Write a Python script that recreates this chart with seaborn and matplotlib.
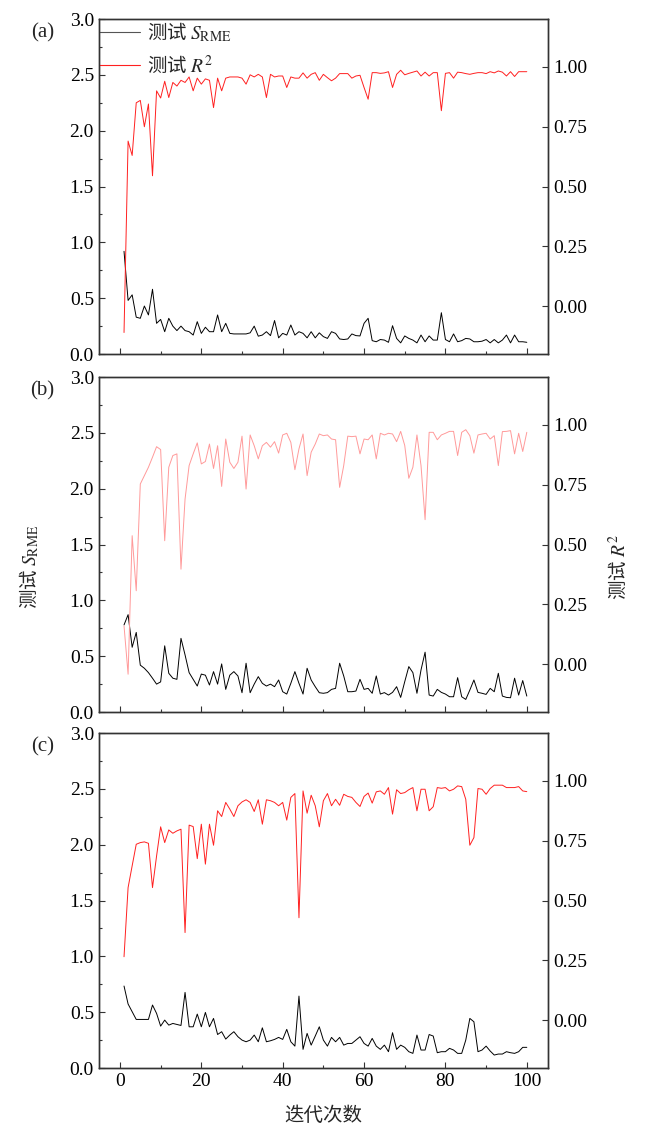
import numpy as np
import pandas as pd
import matplotlib
matplotlib.use("Agg")
import matplotlib.pyplot as plt
import seaborn as sns
from matplotlib.ticker import MultipleLocator
from matplotlib.lines import Line2D

iterations = list(range(1, 101))

rmse_a = [0.92, 0.48, 0.53, 0.33, 0.32, 0.43, 0.35, 0.58, 0.275, 0.31,
          0.20, 0.32, 0.25, 0.21, 0.25, 0.21, 0.20, 0.17, 0.29, 0.185,
          0.24, 0.20, 0.20, 0.35, 0.20, 0.275, 0.185, 0.18, 0.18, 0.18,
          0.18, 0.19, 0.25, 0.16, 0.17, 0.20, 0.165, 0.30, 0.145, 0.185,
          0.17, 0.26, 0.17, 0.20, 0.185, 0.145, 0.20, 0.145, 0.19, 0.156,
          0.14, 0.20, 0.185, 0.135, 0.13, 0.135, 0.18, 0.165, 0.162, 0.275,
          0.32, 0.12, 0.11, 0.13, 0.125, 0.105, 0.254, 0.14, 0.10, 0.162,
          0.14, 0.125, 0.10, 0.17, 0.11, 0.162, 0.125, 0.125, 0.37, 0.13,
          0.11, 0.18, 0.11, 0.12, 0.14, 0.135, 0.11, 0.11, 0.115, 0.13,
          0.10, 0.13, 0.10, 0.125, 0.17, 0.10, 0.17, 0.11, 0.11, 0.105]
r2_a = [-0.11, 0.69, 0.63, 0.85, 0.86, 0.75, 0.845, 0.545, 0.90, 0.87,
        0.94, 0.872, 0.935, 0.92, 0.944, 0.935, 0.958, 0.90, 0.953, 0.928,
        0.95, 0.944, 0.83, 0.953, 0.90, 0.953, 0.958, 0.958, 0.958, 0.953,
        0.928, 0.967, 0.958, 0.969, 0.958, 0.872, 0.969, 0.958, 0.962, 0.962,
        0.914, 0.958, 0.953, 0.953, 0.975, 0.953, 0.969, 0.976, 0.944, 0.969,
        0.955, 0.942, 0.953, 0.972, 0.972, 0.972, 0.953, 0.962, 0.965, 0.914,
        0.865, 0.976, 0.976, 0.973, 0.975, 0.98, 0.914, 0.969, 0.986, 0.967,
        0.973, 0.978, 0.983, 0.962, 0.978, 0.962, 0.976, 0.976, 0.817, 0.973,
        0.976, 0.953, 0.978, 0.976, 0.972, 0.969, 0.973, 0.976, 0.976, 0.972,
        0.98, 0.975, 0.983, 0.978, 0.962, 0.98, 0.96, 0.98, 0.98, 0.98]

rmse_b = [0.78, 0.872, 0.58, 0.713, 0.42, 0.392, 0.353, 0.303, 0.25, 0.27,
          0.593, 0.347, 0.303, 0.293, 0.66, 0.512, 0.353, 0.293, 0.233, 0.34,
          0.33, 0.242, 0.362, 0.25, 0.431, 0.203, 0.33, 0.362, 0.323, 0.173,
          0.437, 0.173, 0.25, 0.317, 0.257, 0.233, 0.25, 0.227, 0.287, 0.182,
          0.161, 0.257, 0.362, 0.257, 0.161, 0.392, 0.287, 0.227, 0.173, 0.168,
          0.174, 0.203, 0.212, 0.437, 0.323, 0.182, 0.182, 0.188, 0.293, 0.203,
          0.212, 0.168, 0.323, 0.161, 0.174, 0.152, 0.176, 0.227, 0.131, 0.272,
          0.407, 0.353, 0.168, 0.377, 0.536, 0.152, 0.143, 0.203, 0.176, 0.161,
          0.137, 0.137, 0.308, 0.137, 0.113, 0.197, 0.287, 0.176, 0.168, 0.158,
          0.212, 0.182, 0.347, 0.143, 0.131, 0.128, 0.303, 0.152, 0.282, 0.143]
r2_b = [0.16, -0.042, 0.537, 0.307, 0.753, 0.788, 0.823, 0.865, 0.909, 0.897,
        0.516, 0.823, 0.872, 0.879, 0.397, 0.69, 0.83, 0.879, 0.925, 0.837,
        0.847, 0.92, 0.818, 0.913, 0.743, 0.941, 0.844, 0.818, 0.844, 0.953,
        0.732, 0.958, 0.913, 0.858, 0.913, 0.927, 0.907, 0.93, 0.882, 0.958,
        0.965, 0.927, 0.813, 0.90, 0.962, 0.788, 0.886, 0.92, 0.962, 0.955,
        0.958, 0.941, 0.938, 0.739, 0.83, 0.953, 0.951, 0.953, 0.879, 0.941,
        0.938, 0.958, 0.858, 0.965, 0.958, 0.965, 0.962, 0.93, 0.973, 0.914,
        0.777, 0.823, 0.958, 0.83, 0.604, 0.969, 0.969, 0.938, 0.958, 0.965,
        0.973, 0.973, 0.872, 0.969, 0.98, 0.955, 0.882, 0.958, 0.962, 0.965,
        0.941, 0.955, 0.83, 0.972, 0.973, 0.976, 0.879, 0.965, 0.889, 0.969]

rmse_c = [0.734, 0.573, 0.504, 0.435, 0.435, 0.435, 0.435, 0.564, 0.489, 0.375,
          0.429, 0.384, 0.399, 0.39, 0.381, 0.677, 0.369, 0.369, 0.483, 0.369,
          0.498, 0.369, 0.444, 0.30, 0.325, 0.259, 0.295, 0.325, 0.28, 0.25,
          0.235, 0.25, 0.295, 0.235, 0.36, 0.235, 0.244, 0.256, 0.274, 0.256,
          0.346, 0.235, 0.196, 0.644, 0.167, 0.31, 0.205, 0.286, 0.369, 0.25,
          0.196, 0.274, 0.235, 0.274, 0.205, 0.22, 0.22, 0.25, 0.28, 0.22,
          0.196, 0.265, 0.196, 0.167, 0.205, 0.146, 0.316, 0.167, 0.205, 0.185,
          0.146, 0.131, 0.295, 0.161, 0.161, 0.30, 0.286, 0.137, 0.146, 0.146,
          0.176, 0.161, 0.131, 0.131, 0.25, 0.444, 0.414, 0.146, 0.161, 0.196,
          0.152, 0.116, 0.125, 0.125, 0.146, 0.137, 0.131, 0.146, 0.185, 0.185]
r2_c = [0.265, 0.554, 0.645, 0.735, 0.742, 0.745, 0.739, 0.554, 0.686, 0.808,
        0.742, 0.795, 0.781, 0.791, 0.798, 0.366, 0.815, 0.809, 0.675, 0.819,
        0.652, 0.819, 0.731, 0.875, 0.851, 0.91, 0.882, 0.851, 0.896, 0.912,
        0.921, 0.91, 0.872, 0.921, 0.819, 0.921, 0.917, 0.91, 0.896, 0.91,
        0.836, 0.931, 0.947, 0.428, 0.958, 0.865, 0.94, 0.896, 0.808, 0.917,
        0.947, 0.896, 0.923, 0.898, 0.944, 0.935, 0.931, 0.91, 0.893, 0.935,
        0.949, 0.907, 0.954, 0.958, 0.944, 0.972, 0.861, 0.963, 0.947, 0.951,
        0.963, 0.972, 0.875, 0.965, 0.965, 0.875, 0.892, 0.972, 0.969, 0.972,
        0.958, 0.965, 0.979, 0.976, 0.923, 0.731, 0.763, 0.968, 0.965, 0.944,
        0.968, 0.982, 0.982, 0.982, 0.972, 0.972, 0.972, 0.976, 0.958, 0.955]

panel_labels = ["(a)", "(b)", "(c)"]
red_colors = ["#ff2020", "#ff9a9a", "#ff2020"]
label_rmse = "测试 $S_{\\mathrm{RME}}$"
label_r2 = "测试 $R^2$"
xlabel = "迭代次数"

sns.set_theme(style="ticks")
plt.rcParams["font.family"] = ["Liberation Serif", "Noto Sans CJK SC", "DejaVu Sans"]
plt.rcParams["mathtext.fontset"] = "stix"
plt.rcParams["xtick.direction"] = "in"
plt.rcParams["ytick.direction"] = "in"
plt.rcParams["axes.edgecolor"] = "#333333"
plt.rcParams["axes.linewidth"] = 1.0

CJK = "Noto Sans CJK SC"

fig = plt.figure(figsize=(6.5, 11.34), dpi=100)
left, width = 0.152, 0.691
bottoms = [0.6878, 0.3721, 0.0582]
height = 0.2954
datasets = [(rmse_a, r2_a), (rmse_b, r2_b), (rmse_c, r2_c)]

fs = 14
for i, ((rm, r2), b) in enumerate(zip(datasets, bottoms)):
    ax = fig.add_axes([left, b, width, height])
    ax2 = ax.twinx()
    df = pd.DataFrame({"iter": iterations, "rmse": rm, "r2": r2})
    sns.lineplot(data=df, x="iter", y="rmse", ax=ax, color="black", lw=0.7)
    sns.lineplot(data=df, x="iter", y="r2", ax=ax2, color=red_colors[i], lw=0.7)
    ax.set_xlim(-5.2, 105.2)
    ax.set_ylim(0, 3.0)
    ax2.set_ylim(-0.2, 1.2)
    ax.set_xlabel("")
    ax.set_ylabel("")
    ax2.set_ylabel("")
    ax.xaxis.set_major_locator(MultipleLocator(20))
    ax.xaxis.set_minor_locator(MultipleLocator(10))
    ax.yaxis.set_major_locator(MultipleLocator(0.5))
    ax.yaxis.set_minor_locator(MultipleLocator(0.25))
    ax2.set_yticks([0.0, 0.25, 0.5, 0.75, 1.0])
    ax2.set_yticklabels(["0.00", "0.25", "0.50", "0.75", "1.00"])
    ax.yaxis.set_major_formatter(matplotlib.ticker.FormatStrFormatter("%.1f"))
    ax.tick_params(axis="both", which="major", labelsize=fs, length=4, width=0.8,
                   top=False, right=False, colors="#333333", labelcolor="black")
    ax.tick_params(axis="both", which="minor", length=2.5, width=0.8,
                   top=False, right=False, colors="#333333")
    ax2.tick_params(axis="y", which="major", labelsize=fs, length=4, width=0.8,
                    colors="#333333", labelcolor="black")
    if i < 2:
        ax.set_xticklabels([])
    for a in (ax, ax2):
        for s in a.spines.values():
            s.set_visible(True)
    fig.text(0.065, b + height - 0.012, panel_labels[i], fontsize=fs + 1,
             ha="center", va="center")
    if i == 0:
        handles = [Line2D([], [], color="#555555", lw=0.8),
                   Line2D([], [], color="#ff2020", lw=0.8)]
        ax.legend(handles, [label_rmse, label_r2], loc="upper left",
                  bbox_to_anchor=(-0.016, 1.02), frameon=False,
                  prop={"family": CJK, "size": fs},
                  handlelength=2.1, handletextpad=0.35, labelspacing=0.6,
                  borderaxespad=0.0)

fig.text(0.046, 0.50, label_rmse, rotation=90, fontsize=fs, ha="center",
         va="center", family=CJK)
fig.text(0.952, 0.50, label_r2, rotation=90, fontsize=fs, ha="center",
         va="center", family=CJK)
fig.text(0.497, 0.016, xlabel, fontsize=fs, ha="center", va="center", family=CJK)

fig.savefig("out.png", dpi=100)
